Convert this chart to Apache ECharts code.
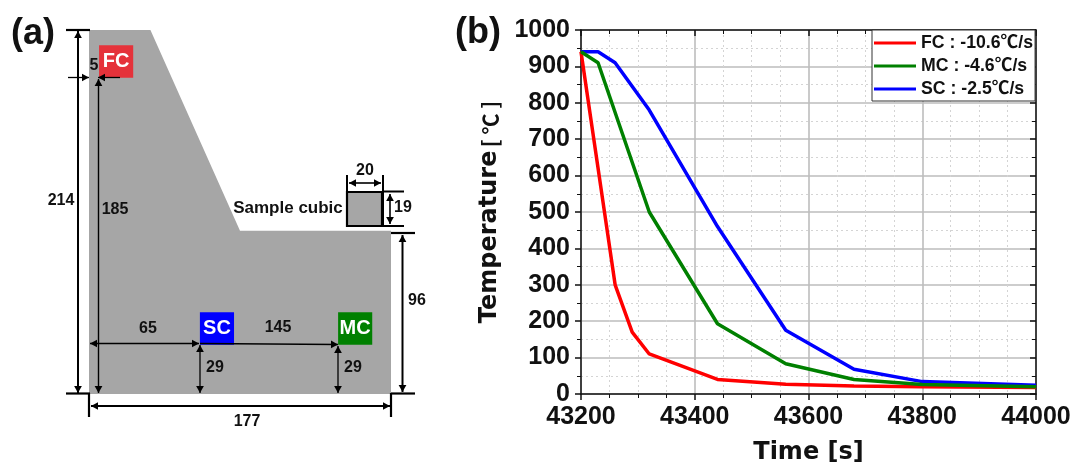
<!DOCTYPE html>
<html><head><meta charset="utf-8">
<style>html,body{margin:0;padding:0;background:#fff}#c{width:1075px;height:464px}</style>
<script src="https://cdn.jsdelivr.net/npm/echarts@6/dist/echarts.min.js"></script>
</head><body><div id="c"></div>
<script>
// ---- data: cooling curves (time [s], temperature [℃])
const fcTime = [43200, 43260, 43290, 43320, 43440, 43560, 43680, 43800, 44000];
const fcTemp = [940, 300, 170, 110, 40, 27, 22, 20, 18];
const mcTime = [43200, 43230, 43320, 43440, 43560, 43680, 43800, 44000];
const mcTemp = [940, 910, 500, 193, 83, 40, 26, 20];
const scTime = [43200, 43230, 43260, 43320, 43440, 43560, 43680, 43800, 44000];
const scTemp = [940, 940, 910, 780, 460, 175, 68, 34, 24];
const seriesNames = ['FC : -10.6℃/s', 'MC : -4.6℃/s', 'SC : -2.5℃/s'];
// ---- data: mould section outline and thermocouple blocks (mm)
const outlineX = [0, 177, 177, 88.5, 36, 0];
const outlineY = [0, 0, 96, 96, 214, 214];
const blockNames = ['FC', 'SC', 'MC'];
const blockX = [5.9, 65, 146];
const blockY = [186, 29, 29];

const FONT = '"DejaVu Sans", sans-serif';
const ARIAL = '"Liberation Sans", "Noto Sans CJK KR", Arial, sans-serif';
const CJK = '"Noto Sans CJK KR", sans-serif';
const pairs = (a, b) => a.map((v, i) => [v, b[i]]);

// ---- dimension annotations of the schematic
const g = [];
function seg(x1, y1, x2, y2, w) {
  g.push({type:'line', shape:{x1,y1,x2,y2}, style:{stroke:'#000', lineWidth:w}, z:20});
}
function head(x, y, dx, dy, s) {
  const px = -dy, py = dx;
  g.push({type:'polygon', shape:{points:[[x,y],[x-dx*s+px*s*0.55,y-dy*s+py*s*0.55],[x-dx*s-px*s*0.55,y-dy*s-py*s*0.55]]}, style:{fill:'#000'}, z:21});
}
function arrow(x1, y1, x2, y2, w, both) {
  seg(x1, y1, x2, y2, w);
  const L = Math.hypot(x2-x1, y2-y1), dx = (x2-x1)/L, dy = (y2-y1)/L;
  head(x2, y2, dx, dy, 7);
  if (both) head(x1, y1, -dx, -dy, 7);
}
function txt(x, y, t, size, color, font) {
  g.push({type:'text', x, y, style:{text:t, fill:color||'#111', font:`bold ${size||16}px ${font||ARIAL}`, textAlign:'center', textVerticalAlign:'middle'}, z:22});
}
seg(66,30,90,30,2.2); seg(66,393.5,90,393.5,2.2);
arrow(78,31,78,393,2,true);
arrow(98.5,79,98.5,393,1.4,true);
arrow(68,77.5,89,77.5,1.3,false);
arrow(120,77.5,98,77.5,1.3,false);
arrow(90,343.5,199,343.5,1.3,true);
arrow(200,343.5,338,344.5,1.3,false);
arrow(200,345,200,393,1.3,true);
arrow(338,346,338,393,1.3,true);
seg(89,393,89,417,2.2); seg(391,393,391,417,2.2);
seg(391,393.5,415,393.5,2.2); seg(391,233,415,233,2.2);
arrow(91,406,390,406,2,true);
arrow(402.5,235,402.5,392,2,true);
// sample cube
g.push({type:'rect', shape:{x:347,y:192,width:35,height:34}, style:{fill:'#a6a6a6', stroke:'#000', lineWidth:2.2}, z:20});
seg(347,175,347,226,2); seg(383,175,383,226,2);
seg(382,191.5,404,191.5,2); seg(382,226,404,226,2);
arrow(349,183,381,183,1.6,true);
arrow(390,194,390,224,1.6,true);
txt(365,171,'20'); txt(403,208,'19'); txt(288,208,'Sample cubic',17);
txt(61,201,'214'); txt(115,210,'185'); txt(94,66,'5');
txt(417,301,'96'); txt(247,422,'177');
txt(148,329,'65'); txt(278,328,'145');
txt(215,368,'29'); txt(353,368,'29');
txt(33,34,'(a)',36,'#111'); txt(478,33,'(b)',36,'#111');

const grayMajor = {show:true, lineStyle:{color:'#bdbdbd', width:1.6}};
const grayMinor = {show:true, lineStyle:{color:'#d4d4d4', width:1, type:[2,3]}};
const axisLine = {show:true, onZero:false, lineStyle:{color:'#111', width:1.5}};
const labelStyle = {fontFamily:ARIAL, fontWeight:'bold', fontSize:25, color:'#111'};

const option = {
  animation:false,
  backgroundColor:'#fff',
  grid:[
    {left:89, top:30, width:302, height:364, containLabel:false, outerBoundsMode:'none'},
    {left:581, top:30, width:455, height:364, containLabel:false, outerBoundsMode:'none'}
  ],
  xAxis:[
    {gridIndex:0, type:'value', min:0, max:177, show:false},
    {gridIndex:1, type:'value', min:43200, max:44000, interval:200,
     name:'Time [s]', nameLocation:'middle', nameGap:47,
     nameTextStyle:{fontFamily:FONT, fontWeight:'bold', fontSize:24, color:'#111'},
     axisLine, axisTick:{show:true, length:6, lineStyle:{color:'#111', width:1.5}},
     minorTick:{show:true, splitNumber:4, length:4, lineStyle:{color:'#111', width:1}},
     axisLabel:{...labelStyle, margin:11, showMinLabel:true, showMaxLabel:true, formatter:v=>String(v)},
     splitLine:grayMajor, minorSplitLine:grayMinor},
    {gridIndex:1, type:'value', min:43200, max:44000, interval:200, position:'top',
     axisLine, axisTick:{show:true, inside:true, length:6, lineStyle:{color:'#111', width:1.5}},
     minorTick:{show:true, splitNumber:4, length:4, lineStyle:{color:'#111', width:1}},
     axisLabel:{show:false}, splitLine:{show:false}}
  ],
  yAxis:[
    {gridIndex:0, type:'value', min:0, max:214, show:false},
    {gridIndex:1, type:'value', min:0, max:1000, interval:100,
     name:'{a|Temperature} {b|[ ℃ ]}', nameLocation:'middle', nameGap:79,
     nameTextStyle:{rich:{
       a:{fontFamily:FONT, fontWeight:'bold', fontSize:24, color:'#111'},
       b:{fontFamily:CJK, fontWeight:'bold', fontSize:21, color:'#111'}}},
     axisLine, axisTick:{show:true, length:6, lineStyle:{color:'#111', width:1.5}},
     minorTick:{show:true, splitNumber:2, length:4, lineStyle:{color:'#111', width:1}},
     axisLabel:{...labelStyle, margin:11, formatter:v=>String(v)},
     splitLine:grayMajor, minorSplitLine:grayMinor},
    {gridIndex:1, type:'value', min:0, max:1000, interval:100, position:'right',
     axisLine, axisTick:{show:true, inside:true, length:6, lineStyle:{color:'#111', width:1.5}},
     minorTick:{show:true, splitNumber:2, length:4, lineStyle:{color:'#111', width:1}},
     axisLabel:{show:false}, splitLine:{show:false}}
  ],
  legend:{
    show:true, orient:'vertical', left:872, top:30,
    data:seriesNames, icon:'rect', itemWidth:42, itemHeight:3, itemGap:5,
    padding:[4,2,3,2], backgroundColor:'#fff', borderColor:'#333', borderWidth:1,
    textStyle:{fontFamily:ARIAL, fontWeight:'bold', fontSize:17.7, color:'#111', lineHeight:18},
    selectedMode:false, z:15
  },
  graphic:{elements:g},
  series:[
    {type:'custom', name:'outline', xAxisIndex:0, yAxisIndex:0, silent:true, z:1,
     coordinateSystem:'cartesian2d', data:pairs(outlineX, outlineY),
     renderItem:function(p, api){
       if (p.dataIndex !== 0) return null;
       const pts = outlineX.map((x,i)=>api.coord([x, outlineY[i]]));
       return {type:'polygon', shape:{points:pts}, style:{fill:'#a6a6a6'}};
     }},
    {type:'custom', name:'blocks', xAxisIndex:0, yAxisIndex:0, silent:true, z:5,
     coordinateSystem:'cartesian2d', data:pairs(blockX, blockY),
     renderItem:function(p, api){
       const i = p.dataIndex;
       const a = api.coord([blockX[i], blockY[i]+19]), b = api.coord([blockX[i]+20, blockY[i]]);
       const fills = ['#e5323a','#0000ff','#008000'];
       return {type:'rect', shape:{x:a[0], y:a[1], width:b[0]-a[0], height:b[1]-a[1]},
         style:{fill:fills[i]},
         textContent:{style:{text:blockNames[i], fill:'#fff', font:`bold 20px ${ARIAL}`}},
         textConfig:{position:'inside'}};
     }},
    {type:'line', name:seriesNames[0], xAxisIndex:1, yAxisIndex:1, data:pairs(fcTime, fcTemp), symbol:'none', z:2, lineStyle:{color:'#ff0000', width:3.5}, itemStyle:{color:'#ff0000'}},
    {type:'line', name:seriesNames[1], xAxisIndex:1, yAxisIndex:1, data:pairs(mcTime, mcTemp), symbol:'none', z:4, lineStyle:{color:'#008000', width:3.5}, itemStyle:{color:'#008000'}},
    {type:'line', name:seriesNames[2], xAxisIndex:1, yAxisIndex:1, data:pairs(scTime, scTemp), symbol:'none', z:3, lineStyle:{color:'#0000ff', width:3.5}, itemStyle:{color:'#0000ff'}}
  ]
};
const chart = echarts.init(document.getElementById('c'));
chart.setOption(option);
</script></body></html>
